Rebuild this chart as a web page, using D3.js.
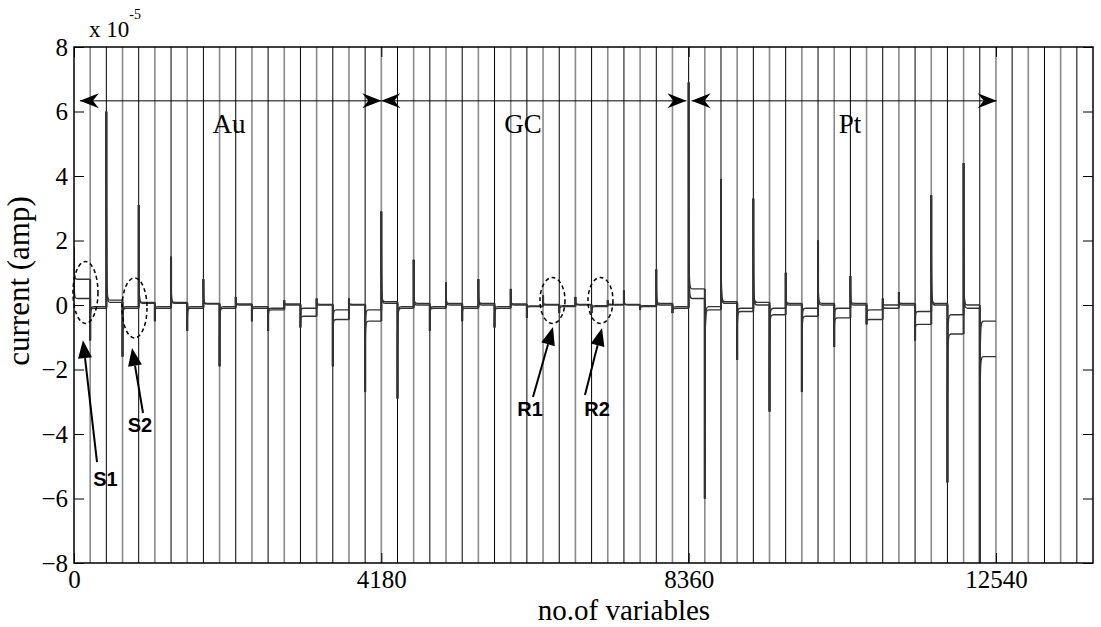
<!DOCTYPE html>
<html>
<head>
<meta charset="utf-8">
<script src="https://cdn.jsdelivr.net/npm/d3@7"></script>
<style>
body { margin: 0; background: #fff; }
</style>
</head>
<body>
<svg id="chart" width="1101" height="627"></svg>
<script>
// axis
xTicks = [0, 4180, 8360, 12540]
xMax = 13860
yTicks = [-8, -6, -4, -2, 0, 2, 4, 6, 8]
stepWidth = 220
stepCount = 63

// electrode regions
regionNames = ["Au", "GC", "Pt"]
regionFrom = [80, 4180, 8400]
regionTo = [4180, 8330, 12550]
regionLabelX = [2108, 6107, 10555]
arrowLevel = 6.33
labelLevel = 5.33

// current (x 1e-5 A) at the start of each step, and settled level of upper / lower trace
stepPeak = [1.8, -1.1, 6.0, -1.6, 3.1, -0.5, 1.5, -0.8, 0.8, -1.9,
    0.25, -0.5, -0.8, 0.15, -0.7, 0.2, -1.9, 0.2, -2.7, 2.9,
    -2.9, 1.4, -0.8, 0.7, -0.5, 0.8, -0.7, 0.5, -0.4, 0.3,
    -0.25, 0.25, -0.25, 0.15, 0.45, -0.15, 1.1, -0.25, 6.9, -6.0,
    3.9, -1.7, 3.3, -3.3, 1.0, -2.7, 2.0, -1.3, 0.9, -0.6,
    0.2, 0.4, -1.1, 3.4, -5.5, 4.4, -8.5]
stepEndHi = [0.8, -0.05, 0.15, -0.05, 0.08, -0.05, 0.08, -0.05, 0.05, -0.05,
    0.03, -0.05, -0.1, 0.03, -0.1, 0.02, -0.15, 0.02, -0.15, 0.1,
    -0.05, 0.05, -0.05, 0.05, -0.05, 0.05, -0.05, 0.03, -0.03, 0.02,
    -0.02, 0.02, -0.02, 0.02, 0.02, -0.02, 0.05, -0.05, 0.5, -0.05,
    0.1, -0.1, 0.08, -0.1, 0.05, -0.1, 0.05, -0.1, 0.05, -0.15,
    0.0, 0.05, -0.2, 0.05, -0.3, 0.0, -0.5]
stepEndLo = [0.2, -0.1, 0.08, -0.1, 0.05, -0.1, 0.05, -0.1, 0.03, -0.1,
    0.0, -0.1, -0.15, 0.0, -0.35, 0.0, -0.45, 0.0, -0.5, 0.05,
    -0.1, 0.0, -0.1, 0.0, -0.1, 0.0, -0.1, 0.0, -0.05, 0.0,
    -0.05, 0.0, -0.05, 0.0, 0.0, -0.05, 0.0, -0.1, 0.2, -0.15,
    0.05, -0.2, 0.0, -0.3, 0.0, -0.35, 0.0, -0.4, 0.0, -0.45,
    -0.1, 0.0, -0.6, 0.0, -0.9, -0.1, -1.6]

// marked regions (dashed ellipses) and their labels
markNames = ["S1", "S2", "R1", "R2"]
markX = [156, 823, 6508, 7161]
markY = [0.39, -0.09, 0.14, 0.14]
markRy = [31, 30, 23, 23]
markTipX = [122, 789, 6515, 7182]
markTipY = [-1.09, -1.33, -0.68, -0.71]
markTailX = [313, 939, 6243, 6950]
markTailY = [-4.87, -3.35, -2.85, -2.79]
markLabelX = [428, 898, 6202, 7114]
markLabelY = [-5.6, -3.95, -3.45, -3.45]

var serif = "'Liberation Serif', 'Times New Roman', serif"
var sans = "'Liberation Sans', Arial, sans-serif"

var margin = {top: 47, right: 8, bottom: 64, left: 74}
var width = 1101 - margin.left - margin.right
var height = 627 - margin.top - margin.bottom

var svg = d3.select("#chart")
svg.append("rect").attr("width", 1101).attr("height", 627).attr("fill", "#fff")
var g = svg.append("g")
    .attr("transform", "translate(" + margin.left + "," + margin.top + ")")

var xScale = d3.scaleLinear().domain([0, xMax]).range([0, width])
var yScale = d3.scaleLinear().domain([-8, 8]).range([height, 0])

g.append("clipPath").attr("id", "plotClip")
    .append("rect").attr("width", width).attr("height", height)

var plot = g.append("g").attr("clip-path", "url(#plotClip)")

// step boundaries (drawn across the whole axis)
var boundaries = d3.range(1, stepCount)
plot.selectAll(".boundary")
    .data(boundaries)
    .enter().append("line")
    .attr("x1", function (d) { return xScale(d * stepWidth) })
    .attr("x2", function (d) { return xScale(d * stepWidth) })
    .attr("y1", 0)
    .attr("y2", height)
    .attr("stroke", function (d) { return d % 2 ? "#8a8a8a" : "#000" })
    .attr("stroke-width", function (d) { return d % 2 ? 1.6 : 1 })

// current traces
var decay = d3.line()
    .x(function (d) { return xScale(d[0]) })
    .y(function (d) { return yScale(d[1]) })
    .curve(d3.curveBasis)

function drawTrace(ends) {
    stepPeak.forEach(function (peak, i) {
        var x0 = i * stepWidth
        var x1 = x0 + stepWidth
        var settle = ends[i]
        if (i > 0) {
            plot.append("line")
                .attr("x1", xScale(x0)).attr("x2", xScale(x0))
                .attr("y1", yScale(ends[i - 1])).attr("y2", yScale(peak))
                .attr("stroke", "#333").attr("stroke-width", 2)
        }
        plot.append("path")
            .datum([[x0, peak], [x0, settle], [x0 + stepWidth * 0.12, settle], [x1, settle]])
            .attr("d", decay)
            .attr("fill", "none")
            .attr("stroke", "#333")
            .attr("stroke-width", 1.4)
    })
}
drawTrace(stepEndHi)
drawTrace(stepEndLo)

// axes box
g.append("rect").attr("width", width).attr("height", height)
    .attr("fill", "none").attr("stroke", "#000").attr("stroke-width", 1.5)

var yAxisL = g.append("g").call(d3.axisLeft(yScale).tickValues(yTicks).tickSizeInner(-10).tickSizeOuter(0).tickPadding(6))
var yAxisR = g.append("g").attr("transform", "translate(" + width + ",0)")
    .call(d3.axisRight(yScale).tickValues(yTicks).tickSizeInner(-10).tickSizeOuter(0).tickFormat(""))
var xAxisB = g.append("g").attr("transform", "translate(0," + height + ")")
    .call(d3.axisBottom(xScale).tickValues(xTicks).tickSizeInner(-10).tickSizeOuter(0).tickPadding(8).tickFormat(d3.format("d")))
var xAxisT = g.append("g")
    .call(d3.axisTop(xScale).tickValues(xTicks).tickSizeInner(-10).tickSizeOuter(0).tickFormat(""))

svg.selectAll(".domain").remove()
svg.selectAll(".tick line").attr("stroke", "#000").attr("stroke-width", 1)
yAxisL.selectAll("text").style("font-size", "25px").style("font-family", serif).attr("fill", "#000")
xAxisB.selectAll("text").style("font-size", "25px").style("font-family", serif).attr("fill", "#000")
    .attr("dy", "0.66em")

// exponent
var expo = svg.append("text").attr("x", 89).attr("y", 37)
    .style("font-family", serif).style("font-size", "23px")
expo.append("tspan").text("x 10")
expo.append("tspan").attr("dy", -18).style("font-size", "14px").text("-5")

// axis titles
svg.append("text")
    .attr("x", 624)
    .attr("y", 620)
    .attr("text-anchor", "middle")
    .style("font-family", serif)
    .style("font-size", "29px")
    .text("no.of variables")

svg.append("text")
    .attr("transform", "translate(29,281) rotate(-90)")
    .attr("text-anchor", "middle")
    .style("font-family", serif)
    .style("font-size", "31px")
    .text("current (amp)")

// region arrows
function arrowHead(x, y, dir) {
    // swept-back filled head, tip at (x, y)
    var p = [[0, 0], [-19 * dir, -7.5], [-13 * dir, 0], [-19 * dir, 7.5]]
    return "M" + p.map(function (q) { return (x + q[0]) + "," + (y + q[1]) }).join("L") + "Z"
}
regionNames.forEach(function (name, i) {
    var xa = xScale(regionFrom[i]), xb = xScale(regionTo[i]), ya = yScale(arrowLevel)
    g.append("line").attr("x1", xa).attr("x2", xb).attr("y1", ya).attr("y2", ya)
        .attr("stroke", "#000").attr("stroke-width", 1)
    g.append("path").attr("d", arrowHead(xa, ya, -1)).attr("fill", "#000")
    g.append("path").attr("d", arrowHead(xb, ya, 1)).attr("fill", "#000")
    g.append("text").attr("x", xScale(regionLabelX[i])).attr("y", yScale(labelLevel))
        .attr("text-anchor", "middle")
        .style("font-family", serif).style("font-size", "27px").text(name)
})

// marked regions
markNames.forEach(function (name, i) {
    g.append("ellipse")
        .attr("cx", xScale(markX[i])).attr("cy", yScale(markY[i]))
        .attr("rx", 12.5).attr("ry", markRy[i])
        .attr("fill", "none").attr("stroke", "#000").attr("stroke-width", 1.5)
        .attr("stroke-dasharray", "4,3")
    var tx = xScale(markTipX[i]), ty = yScale(markTipY[i])
    var sx = xScale(markTailX[i]), sy = yScale(markTailY[i])
    var ang = Math.atan2(ty - sy, tx - sx)
    var len = 18, half = 7
    var bx = tx - len * Math.cos(ang), by = ty - len * Math.sin(ang)
    g.append("line").attr("x1", sx).attr("y1", sy).attr("x2", bx).attr("y2", by)
        .attr("stroke", "#000").attr("stroke-width", 2)
    g.append("path")
        .attr("d", "M" + tx + "," + ty +
            "L" + (bx + half * Math.sin(ang)) + "," + (by - half * Math.cos(ang)) +
            "L" + (bx - half * Math.sin(ang)) + "," + (by + half * Math.cos(ang)) + "Z")
        .attr("fill", "#000")
    g.append("text")
        .attr("x", xScale(markLabelX[i])).attr("y", yScale(markLabelY[i]))
        .attr("text-anchor", "middle")
        .style("font-family", sans).style("font-weight", "bold").style("font-size", "20px")
        .text(name)
})
</script>
</body>
</html>
